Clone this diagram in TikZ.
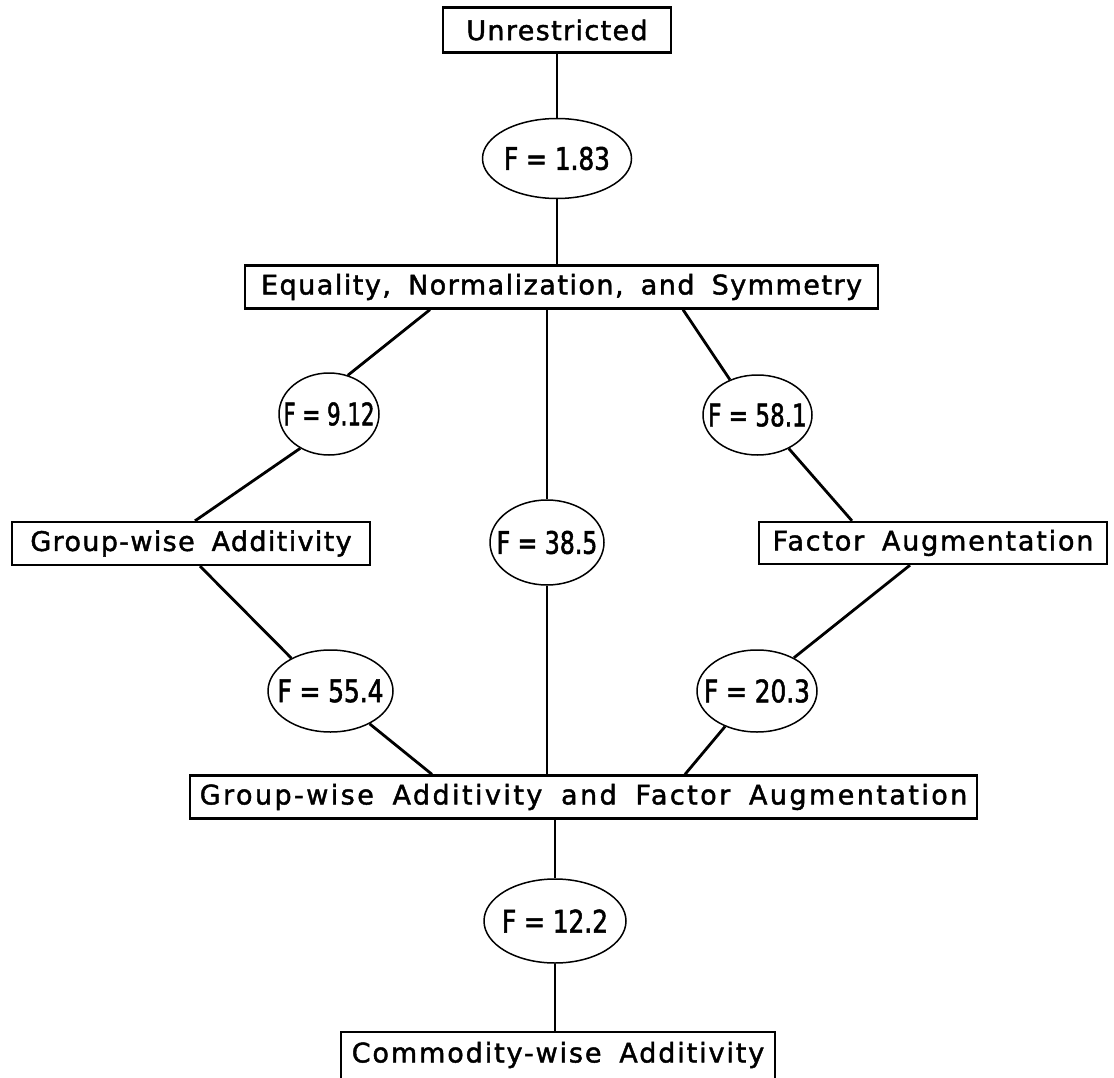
\documentclass[tikz,border=0pt]{standalone}
\usepackage{fontspec}
\setmainfont{DejaVu Sans}[LetterSpace=5, WordSpace=1.7, FakeBold=1.6]
\newfontfamily\labfont{DejaVu Sans}[FakeStretch=0.8, FakeBold=1.6]
\usetikzlibrary{shapes.geometric}
\begin{document}
\begin{tikzpicture}[x=1pt,y=-1pt,
  box/.style={draw, line width=2.3pt, rectangle, inner sep=0pt, minimum height=43pt, font=\fontsize{27}{30}\selectfont},
  fell/.style={draw, line width=1.5pt, ellipse, inner sep=0pt},
  lab/.style={font=\labfont\fontsize{31}{34}\selectfont},
  conn/.style={line width=2.8pt}]
\useasboundingbox (0,0) rectangle (1114,1078);
% boxes
\node[box, minimum width=228pt, minimum height=45pt] (un) at (557,30) {Unrestricted};
\node[box, minimum width=633pt] (eq) at (561.5,287) {\addfontfeature{LetterSpace=5.5}Equality, Normalization, and Symmetry};
\node[box, minimum width=358pt] (gw) at (191,543.5) {Group-wise Additivity};
\node[box, minimum width=348pt, minimum height=42pt] (fa) at (933,543) {\addfontfeature{LetterSpace=6.7}Factor Augmentation};
\node[box, minimum width=787pt] (gf) at (583.5,797) {\addfontfeature{LetterSpace=9}Group-wise Additivity and Factor Augmentation};
\node[box, draw=none, minimum width=432pt, minimum height=44pt] (cw) at (558,1055) {\addfontfeature{LetterSpace=7}Commodity-wise Additivity};
\draw[line width=2.3pt] ([yshift=-30pt]cw.south west) -- (cw.north west) -- (cw.north east) -- ([yshift=-30pt]cw.south east);
% ellipses
\node[fell, minimum width=149pt, minimum height=80pt, label={[lab]center:F = 1.83}] (e183) at (557,158.5) {};
\node[fell, minimum width=100pt, minimum height=82pt, label={[lab]center:\scalebox{0.86}[1]{F = 9.12}}] (e912) at (329,414) {};
\node[fell, minimum width=109pt, minimum height=80pt, label={[lab]center:\scalebox{0.93}[1]{F = 58.1}}] (e581) at (757.5,415) {};
\node[fell, minimum width=114pt, minimum height=85pt, label={[lab]center:\scalebox{0.95}[1]{F = 38.5}}] (e385) at (547,542.5) {};
\node[fell, minimum width=125pt, minimum height=82pt, label={[lab]center:F = 55.4}] (e554) at (330.5,691) {};
\node[fell, minimum width=120pt, minimum height=82pt, label={[lab]center:F = 20.3}] (e203) at (757,691) {};
\node[fell, minimum width=142pt, minimum height=84pt, label={[lab]center:F = 12.2}] (e122) at (555,921) {};
% connectors
\draw[conn] (un.south -| e183.north) -- (e183.north);
\draw[conn] (e183.south) -- (e183.south |- eq.north);
\draw[conn] (eq.south -| e385.north) -- (e385.north);
\draw[conn] (e385.south) -- (e385.south |- gf.north);
\draw[conn] ([xshift=-131.5pt]eq.south) -- (e912.64);
\draw[conn] (e912.230) -- ([xshift=4pt]gw.north);
\draw[conn] ([xshift=121.5pt]eq.south) -- (e581.128);
\draw[conn] (e581.313) -- ([xshift=-81pt]fa.north);
\draw[conn] ([xshift=9pt]gw.south) -- (e554.140);
\draw[conn] (e554.320) -- ([xshift=-151.5pt]gf.north);
\draw[conn] ([xshift=-23pt]fa.south) -- (e203.42);
\draw[conn] (e203.228) -- ([xshift=101.5pt]gf.north);
\draw[conn] (gf.south -| e122.north) -- (e122.north);
\draw[conn] (e122.south) -- (e122.south |- cw.north);
\end{tikzpicture}
\end{document}
